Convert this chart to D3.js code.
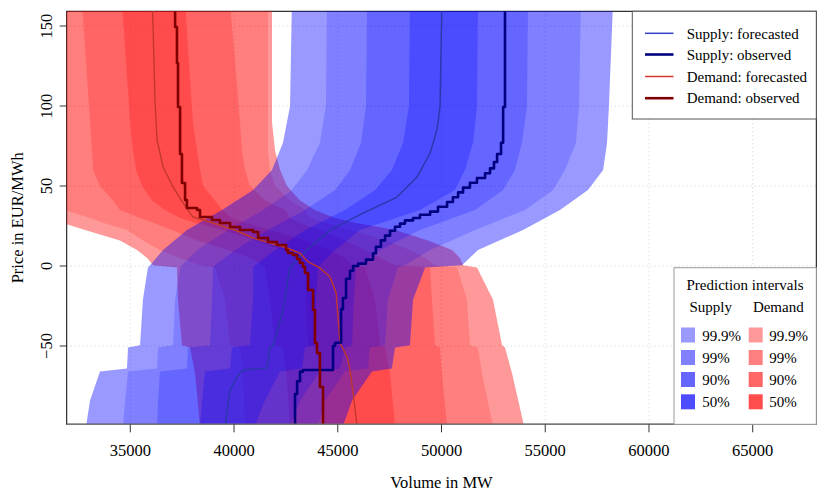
<!DOCTYPE html>
<html><head><meta charset="utf-8">
<script src="https://cdn.jsdelivr.net/npm/d3@7"></script>
<style>body{margin:0;background:#fff}svg{display:block}</style>
</head><body>
<svg id="c" width="830" height="498"></svg>
<script>
// ---- data ----
const xTicks = [35000, 40000, 45000, 50000, 55000, 60000, 65000];
const yTicks = [-50, 0, 50, 100, 150];
const xDomain = [31935, 68065];
const yDomain = [-98.94, 159.19];

// supply quantile boundaries (MW) at supplyPrices
const supplyPrices = [165, 100, 77, 60, 47.5, 35, 22.5, 10, 0.5, -1, -21, -49.5, -51, -64, -66, -84, -100];
const supplyQ0005 = [42790, 42700, 42360, 41830, 40920, 39420, 37730, 36580, 35950, 35850, 35610, 35470, 34890, 34840, 33540, 33060, 32870];
const supplyQ005  = [44480, 44430, 44140, 43520, 42790, 41400, 39710, 38220, 37490, 37400, 37160, 37060, 36340, 36290, 34890, 34750, 34650];
const supplyQ05   = [46410, 46360, 46120, 45590, 44870, 43420, 41640, 40050, 39080, 38990, 38940, 38840, 37780, 37730, 36430, 36340, 36290];
const supplyQ25   = [48480, 48430, 48150, 47610, 46800, 45350, 43420, 41980, 41010, 40920, 40920, 40770, 39900, 39810, 38600, 38460, 38360];
const supplyQ75   = [51760, 51710, 51520, 51130, 50650, 48960, 46070, 44870, 44140, 44050, 43950, 43900, 43420, 43280, 42220, 41490, 41010];
const supplyQ95   = [54170, 54120, 53880, 53540, 52970, 51620, 48960, 47040, 46070, 45880, 45780, 45690, 45350, 45110, 44140, 43180, 42700];
const supplyQ995  = [56720, 56630, 56480, 55950, 55380, 54030, 51620, 49450, 48240, 47900, 47420, 47280, 46550, 46460, 45350, 44390, 44050];
const supplyQ9995 = [58270, 58070, 57980, 57790, 57060, 55710, 53930, 51760, 50990, 49210, 48630, 48480, 47760, 47610, 46650, 45690, 45250];

// demand quantile boundaries (MW) at demandPrices
const demandPrices = [165, 90, 72, 60, 50, 41, 35, 30, 27, 22.5, 16, 10, 5, 0.5, -1, -21, -49.5, -51, -67, -100];
const demandQ0005 = [29440, 29680, 29880, 30070, 30260, 30550, 30890, 31370, 31710, 32820, 34500, 35320, 35810, 36100, 37250, 37300, 37490, 37880, 38120, 38360];
const demandQ005  = [30890, 31130, 31230, 31370, 31520, 31710, 31810, 33060, 33690, 34840, 35610, 36430, 37400, 38360, 39080, 39570, 39810, 40290, 40430, 40530];
const demandQ05   = [32670, 33060, 33150, 33200, 33540, 34170, 34500, 35470, 36100, 37010, 38220, 39710, 40780, 41350, 41490, 41730, 41980, 42360, 42510, 42700];
const demandQ25   = [34600, 34990, 35130, 35280, 35560, 36050, 36670, 37400, 38120, 39420, 41010, 42310, 42990, 43280, 43420, 43470, 43570, 43900, 44140, 44390];
const demandQ75   = [37640, 38020, 38220, 38360, 38510, 39080, 39420, 39900, 40530, 41730, 43420, 44630, 45350, 45690, 46310, 46800, 47040, 47280, 47520, 47760];
const demandQ95   = [39810, 40290, 40380, 40530, 40770, 41490, 42460, 42700, 43180, 44140, 45350, 46310, 47040, 47760, 49450, 49540, 49690, 49930, 50020, 50270];
const demandQ995  = [41640, 41640, 41640, 41730, 41980, 42700, 43420, 43660, 44390, 45590, 47280, 48480, 49210, 49690, 50750, 51230, 51370, 51760, 51950, 52480];
const demandQ9995 = [41830, 41830, 41980, 42220, 42550, 43180, 43900, 44870, 45830, 47760, 49350, 50510, 50890, 51040, 51710, 52480, 52920, 53060, 53400, 53980];

// forecast (median) and observed curves
const supplyFcPrices = [165, 99.4, 85, 70.6, 55.6, 43.1, 33.1, 22.5, 10, 5.6, -0.6, -27.5, -50, -50.6, -63.75, -65, -69.4, -77.5, -100];
const supplyFcMW     = [50020, 49930, 49780, 49450, 48820, 47860, 46220, 44630, 43520, 43180, 42700, 42360, 41880, 41730, 41590, 40430, 40140, 39810, 39570];
const supplyObsPrices = [165, 99.4, 77, 70, 65, 61, 58, 55, 52, 49, 46, 43, 40, 37, 34, 32, 30, 28.5, 26.5, 24.5, 22, 19, 16, 12, 8, 4, 1.5, 0, -3, -8, -20, -27, -48, -50, -65, -66, -72, -80, -100];
const supplyObsMW     = [53160, 53060, 52970, 52870, 52680, 52530, 52340, 52100, 51710, 51370, 51040, 50800, 50550, 50270, 49830, 49450, 48960, 48630, 48240, 48000, 47760, 47520, 47280, 47080, 46840, 46700, 46360, 45980, 45740, 45590, 45400, 45250, 45160, 44870, 44770, 43320, 43180, 43040, 42940];
const demandFcPrices = [165, 149.4, 103.75, 78.75, 61.9, 49.4, 39.4, 30.6, 27.5, 22.5, 17.5, 11.25, 8.1, 2.5, -1.25, -6.9, -16.9, -48.1, -56.9, -65, -79.4, -100];
const demandFcMW     = [36050, 36100, 36190, 36290, 36580, 37060, 37540, 38020, 38840, 40050, 40920, 42550, 43180, 43570, 44140, 44630, 44920, 45110, 45450, 45590, 45740, 45930];
const demandObsPrices = [165, 149.4, 126.9, 99.4, 70, 51.9, 41.25, 36.25, 35, 30.6, 28.75, 26.9, 24.4, 22.5, 21.25, 17.5, 15, 13.1, 10, 8.1, 6.9, 4.4, 1.9, -0.6, -4.4, -15, -27.5, -48.1, -54.4, -75.6, -100];
const demandObsMW     = [37060, 37160, 37250, 37300, 37400, 37490, 37640, 37730, 38220, 38360, 38940, 39320, 39810, 40290, 40920, 41160, 41640, 42070, 42510, 42600, 42840, 43040, 43180, 43330, 43420, 43570, 43810, 43900, 44000, 44140, 44290];

const intervalLabels = ["99.9%", "99%", "90%", "50%"];
const supplySwatch = ["#9999ff", "#8080ff", "#6666ff", "#4d4dff"];
const demandSwatch = ["#ff9999", "#ff8080", "#ff6666", "#ff4d4d"];
const layerAlpha = [0.4, 1/6, 0.2, 0.25];
const legendLines = [
  {label: "Supply: forecasted", color: "#3440c8", w: 1.5},
  {label: "Supply: observed", color: "#000080", w: 2.6},
  {label: "Demand: forecasted", color: "#d93a30", w: 1.5},
  {label: "Demand: observed", color: "#800000", w: 2.6}
];

// ---- drawing ----
const svg = d3.select("#c");
const L = 66.7, R = 816.3, T = 11.3, B = 424.3;
const x = d3.scaleLinear().domain(xDomain).range([L, R]);
const y = d3.scaleLinear().domain(yDomain).range([B, T]);
const serif = "'Liberation Serif','Times New Roman',serif";

svg.append("rect").attr("width", 830).attr("height", 498).attr("fill", "#fff");
svg.append("defs").append("clipPath").attr("id", "clip")
  .append("rect").attr("x", L).attr("y", T).attr("width", R - L).attr("height", B - T);

// grid
const grid = svg.append("g").attr("stroke", "#cfcfcf").attr("stroke-dasharray", "1,3").attr("stroke-width", 1);
xTicks.forEach(t => grid.append("line").attr("x1", x(t)).attr("x2", x(t)).attr("y1", T).attr("y2", B));
yTicks.forEach(t => grid.append("line").attr("y1", y(t)).attr("y2", y(t)).attr("x1", L).attr("x2", R));

// frame (under the bands)
svg.append("rect").attr("x", L).attr("y", T).attr("width", R - L).attr("height", B - T)
  .attr("fill", "none").attr("stroke", "#000").attr("stroke-width", 1);

const plot = svg.append("g").attr("clip-path", "url(#clip)");
const area = d3.area().y(d => y(d.p)).x0(d => x(d.lo)).x1(d => x(d.hi));

function drawBands(prices, pairs, color) {
  pairs.forEach((pr, i) => {
    const data = prices.map((p, k) => ({p: p, lo: pr[0][k], hi: pr[1][k]}));
    plot.append("path").attr("d", area(data)).attr("fill", color).attr("fill-opacity", layerAlpha[i]);
  });
}
drawBands(demandPrices, [[demandQ0005, demandQ9995], [demandQ005, demandQ995], [demandQ05, demandQ95], [demandQ25, demandQ75]], "#ff0000");
drawBands(supplyPrices, [[supplyQ0005, supplyQ9995], [supplyQ005, supplyQ995], [supplyQ05, supplyQ95], [supplyQ25, supplyQ75]], "#0000ff");

function drawLine(prices, mw, color, w, curve, op) {
  const data = prices.map((p, k) => ({p: p, v: mw[k]}));
  const ln = d3.line().x(d => x(d.v)).y(d => y(d.p)).curve(curve);
  plot.append("path").attr("d", ln(data)).attr("fill", "none").attr("stroke", color)
    .attr("stroke-width", w).attr("stroke-opacity", op).attr("stroke-linejoin", "round");
}
drawLine(supplyFcPrices, supplyFcMW, "#2a38a8", 1.4, d3.curveLinear, 1);
drawLine(demandFcPrices, demandFcMW, "#c0382c", 1.4, d3.curveLinear, 1);
drawLine(supplyObsPrices, supplyObsMW, "#000080", 2.6, d3.curveStepAfter, 1);
drawLine(demandObsPrices, demandObsMW, "#800000", 2.6, d3.curveStepAfter, 1);

// bottom axis line
svg.append("line").attr("x1", L).attr("x2", R).attr("y1", B).attr("y2", B).attr("stroke", "#777").attr("stroke-width", 1.6);
// x ticks & labels
xTicks.forEach(t => {
  svg.append("line").attr("x1", x(t)).attr("x2", x(t)).attr("y1", B).attr("y2", B + 8).attr("stroke", "#333");
  svg.append("text").attr("x", x(t)).attr("y", 456).attr("text-anchor", "middle")
    .attr("font-family", serif).attr("font-size", 16.5).attr("fill", "#000").text(t);
});
// y ticks & labels
yTicks.forEach(t => {
  svg.append("line").attr("x1", L - 7).attr("x2", L).attr("y1", y(t)).attr("y2", y(t)).attr("stroke", "#333");
  svg.append("text").attr("transform", `translate(52,${y(t)}) rotate(-90)`).attr("text-anchor", "middle")
    .attr("font-family", serif).attr("font-size", 16.5).attr("fill", "#000").text(t < 0 ? "\u2212" + Math.abs(t) : t);
});
// axis titles
svg.append("text").attr("x", (L + R) / 2).attr("y", 488).attr("text-anchor", "middle")
  .attr("font-family", serif).attr("font-size", 16.5).text("Volume in MW");
svg.append("text").attr("transform", `translate(23,${(T + B) / 2}) rotate(-90)`).attr("text-anchor", "middle")
  .attr("font-family", serif).attr("font-size", 16.5).text("Price in EUR/MWh");

// legend 1
const lg1 = svg.append("g");
lg1.append("rect").attr("x", 632.3).attr("y", T).attr("width", R - 632.3).attr("height", 119 - T)
  .attr("fill", "#fff").attr("stroke", "#555").attr("stroke-width", 1);
const rowY = [33.3, 54.5, 76.5, 98.2];
legendLines.forEach((d, i) => {
  lg1.append("line").attr("x1", 645).attr("x2", 673.5).attr("y1", rowY[i]).attr("y2", rowY[i])
    .attr("stroke", d.color).attr("stroke-width", d.w);
  lg1.append("text").attr("x", 686.7).attr("y", rowY[i] + 5.2).attr("font-family", serif)
    .attr("font-size", 15).text(d.label);
});

// legend 2
const lg2 = svg.append("g");
lg2.append("rect").attr("x", 674).attr("y", 267.7).attr("width", R - 674).attr("height", B - 267.7)
  .attr("fill", "#fff").attr("stroke", "#999").attr("stroke-width", 1);
lg2.append("text").attr("x", 745).attr("y", 290).attr("text-anchor", "middle").attr("font-family", serif)
  .attr("font-size", 15).text("Prediction intervals");
lg2.append("text").attr("x", 710.7).attr("y", 311.5).attr("text-anchor", "middle").attr("font-family", serif)
  .attr("font-size", 15).text("Supply");
lg2.append("text").attr("x", 778.3).attr("y", 311.5).attr("text-anchor", "middle").attr("font-family", serif)
  .attr("font-size", 15).text("Demand");
const swY = [327.5, 350, 372, 394.3];
intervalLabels.forEach((lab, i) => {
  lg2.append("rect").attr("x", 681).attr("y", swY[i]).attr("width", 14).attr("height", 15).attr("fill", supplySwatch[i]);
  lg2.append("text").attr("x", 702.3).attr("y", swY[i] + 13).attr("font-family", serif).attr("font-size", 15).text(lab);
  lg2.append("rect").attr("x", 748.7).attr("y", swY[i]).attr("width", 14).attr("height", 15).attr("fill", demandSwatch[i]);
  lg2.append("text").attr("x", 769.3).attr("y", swY[i] + 13).attr("font-family", serif).attr("font-size", 15).text(lab);
});
</script>
</body></html>
